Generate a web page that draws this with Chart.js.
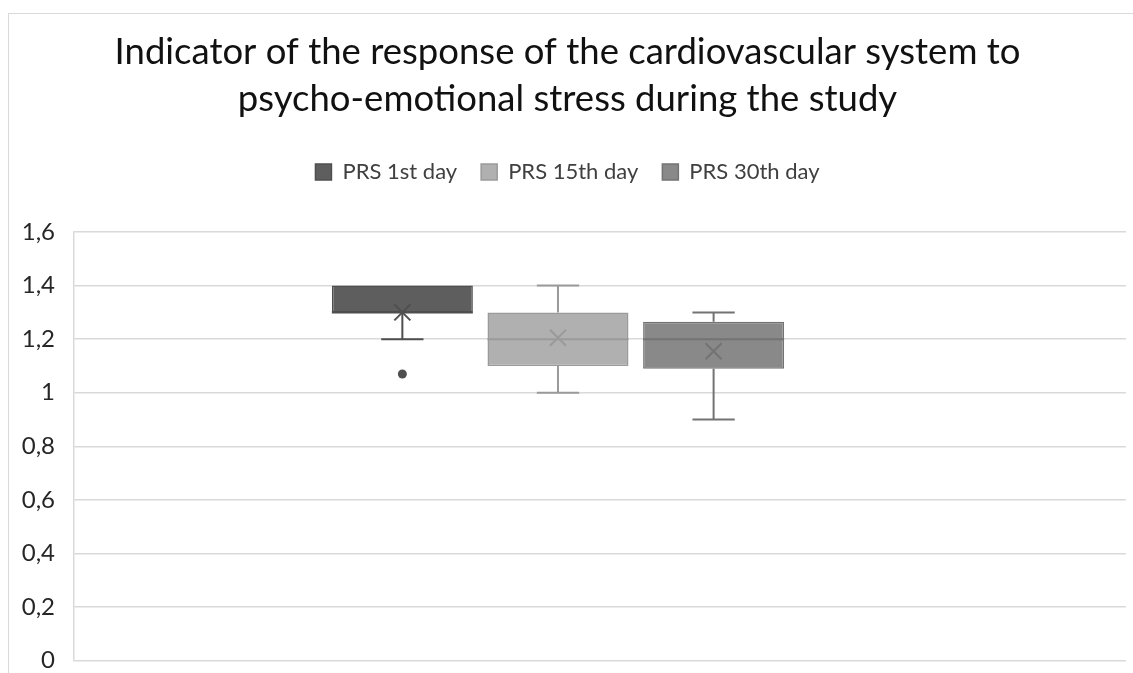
<!DOCTYPE html>
<html>
<head>
<meta charset="utf-8">
<script src="https://cdn.jsdelivr.net/npm/chart.js@4/dist/chart.umd.min.js"></script>
<style>
  html, body { margin: 0; padding: 0; background: #fff; overflow: hidden; }
  #wrap { position: absolute; left: 8px; top: 13px; width: 1140px; height: 680px;
          border-left: 1px solid #d9d9d9; border-top: 1px solid #d9d9d9; }
</style>
</head>
<body>
<div id="wrap"><canvas id="boxChart"></canvas></div>
<script>
// series and box plot statistics
const seriesNames = ['PRS 1st day', 'PRS 15th day', 'PRS 30th day'];
const whiskerLow = [1.2, 1.0, 0.9];
const quartile1 = [1.3, 1.1, 1.09];
const medians = [1.3, 1.2, 1.2];
const quartile3 = [1.4, 1.3, 1.265];
const whiskerHigh = [1.4, 1.4, 1.3];
const means = [1.3, 1.205, 1.155];
const outliers = [[1.07], [], []];
const yTicks = [0, 0.2, 0.4, 0.6, 0.8, 1, 1.2, 1.4, 1.6];

const fills = ['#5e5e5e', '#b0b0b0', '#898989'];
const lines = ['#4f4f4f', '#9a9a9a', '#737373'];

const FONT = 'Lato, "Open Sans", sans-serif';

// whiskers, median, mean cross and outliers on top of the floating bars
const boxExtras = {
  id: 'boxExtras',
  afterDatasetsDraw(chart) {
    const ctx = chart.ctx;
    const y = chart.scales.y;
    seriesNames.forEach((name, i) => {
      const meta = chart.getDatasetMeta(i);
      if (meta.hidden) return;
      const bar = meta.data[0];
      const x = bar.x;
      const w = bar.width;
      const cap = w * 0.3;
      ctx.save();
      ctx.strokeStyle = lines[i];
      ctx.lineWidth = 2;
      ctx.beginPath();
      // upper whisker
      if (whiskerHigh[i] > quartile3[i]) {
        ctx.moveTo(x, y.getPixelForValue(quartile3[i]));
        ctx.lineTo(x, y.getPixelForValue(whiskerHigh[i]));
        ctx.moveTo(x - cap / 2, y.getPixelForValue(whiskerHigh[i]));
        ctx.lineTo(x + cap / 2, y.getPixelForValue(whiskerHigh[i]));
      }
      // lower whisker
      if (whiskerLow[i] < quartile1[i]) {
        ctx.moveTo(x, y.getPixelForValue(quartile1[i]));
        ctx.lineTo(x, y.getPixelForValue(whiskerLow[i]));
        ctx.moveTo(x - cap / 2, y.getPixelForValue(whiskerLow[i]));
        ctx.lineTo(x + cap / 2, y.getPixelForValue(whiskerLow[i]));
      }
      // median
      ctx.moveTo(x - w / 2, y.getPixelForValue(medians[i]));
      ctx.lineTo(x + w / 2, y.getPixelForValue(medians[i]));
      ctx.stroke();

      // mean cross
      const my = y.getPixelForValue(means[i]);
      const s = 8;
      ctx.beginPath();
      ctx.moveTo(x - s, my - s);
      ctx.lineTo(x + s, my + s);
      ctx.moveTo(x + s, my - s);
      ctx.lineTo(x - s, my + s);
      ctx.stroke();

      // outliers
      ctx.fillStyle = lines[i];
      outliers[i].forEach(v => {
        ctx.beginPath();
        ctx.arc(x, y.getPixelForValue(v), 4.5, 0, Math.PI * 2);
        ctx.fill();
      });
      ctx.restore();
    });
  }
};

// empty layout box between the legend and the plot
const legendGap = {
  id: 'legendGap',
  beforeInit(chart) {
    Chart.layouts.addBox(chart, {
      position: 'top',
      weight: 500,
      fullSize: true,
      options: {},
      left: 0, top: 0, right: 0, bottom: 0, width: 0, height: 0,
      isHorizontal() { return true; },
      update(maxWidth) { this.width = maxWidth; this.height = 39; },
      draw() {}
    });
  }
};

const datasets = seriesNames.map((name, i) => ({
  label: name,
  data: [{ x: i, y: [quartile1[i], quartile3[i]] }],
  backgroundColor: fills[i],
  borderColor: lines[i],
  borderWidth: 1.5,
  borderSkipped: false,
  grouped: false,
  categoryPercentage: 1,
  barPercentage: 0.906
}));

new Chart(document.getElementById('boxChart'), {
  type: 'bar',
  data: { datasets: datasets },
  plugins: [boxExtras, legendGap],
  options: {
    responsive: true,
    maintainAspectRatio: false,
    animation: false,
    layout: { padding: { left: 0, right: 23, top: 0, bottom: 32 } },
    plugins: {
      tooltip: { enabled: false },
      title: {
        display: true,
        text: ['Indicator of the response of the cardiovascular system to',
               'psycho-emotional stress during the study'],
        color: '#111',
        font: { family: FONT, size: 36.5, weight: 'normal', lineHeight: 1.288 },
        padding: { top: 15, bottom: 14 }
      },
      legend: {
        display: true,
        labels: {
          color: '#404040',
          font: { family: FONT, size: 22 },
          boxWidth: 16,
          boxHeight: 16,
          padding: 24
        }
      }
    },
    scales: {
      x: {
        type: 'linear',
        display: false,
        offset: false,
        min: -2.11,
        max: 4.65,
        afterBuildTicks: s => { s.ticks = seriesNames.map((n, i) => ({ value: i })); }
      },
      y: {
        min: 0,
        max: 1.6,
        afterBuildTicks: s => { s.ticks = yTicks.map(v => ({ value: v })); },
        afterFit: s => { s.width = 65; },
        grid: { color: '#d9d9d9', lineWidth: 1.5, drawTicks: false },
        border: { display: true, color: '#d9d9d9', width: 1.5 },
        ticks: {
          padding: 19,
          color: '#262626',
          font: { family: FONT, size: 24 },
          callback: v => String(Math.round(v * 10) / 10).replace('.', ',')
        }
      }
    }
  }
});
</script>
</body>
</html>
